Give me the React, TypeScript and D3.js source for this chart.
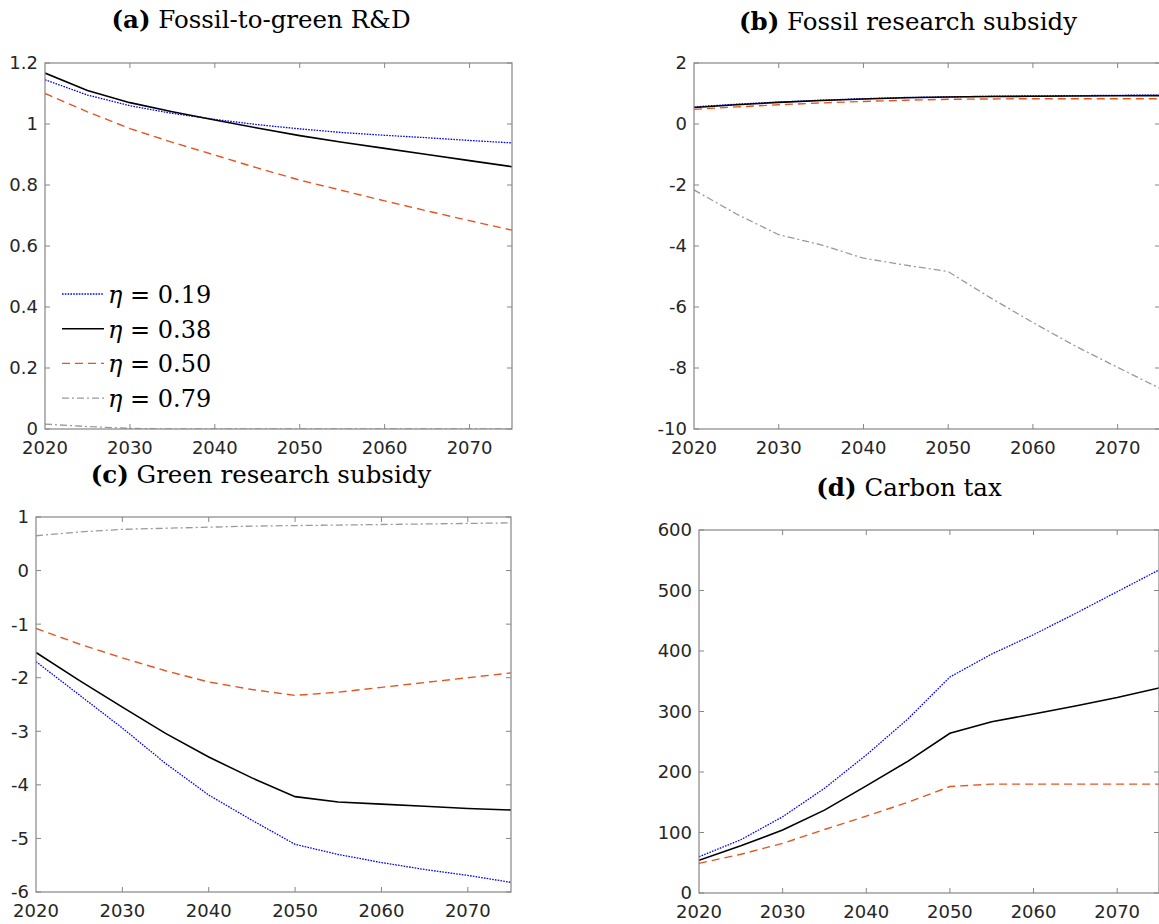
import React, { useEffect, useRef } from "react";
import * as d3 from "d3";

const years = [2020, 2025, 2030, 2035, 2040, 2045, 2050, 2055, 2060, 2065, 2070, 2075];
const yearTicks = [2020, 2030, 2040, 2050, 2060, 2070];
const etaLabels = ["0.19", "0.38", "0.50", "0.79"];

// (a) Fossil-to-green R&D
const rd019 = [1.145, 1.095, 1.06, 1.035, 1.015, 0.998, 0.984, 0.972, 0.963, 0.955, 0.946, 0.938];
const rd038 = [1.167, 1.11, 1.07, 1.04, 1.013, 0.987, 0.962, 0.94, 0.92, 0.9, 0.88, 0.86];
const rd050 = [1.1, 1.04, 0.985, 0.94, 0.898, 0.856, 0.816, 0.782, 0.748, 0.715, 0.683, 0.652];
const rd079 = [0.016, 0.008, 0.002, 0, 0, 0, 0, 0, 0, 0, 0, 0];
const rdTicks = [0, 0.2, 0.4, 0.6, 0.8, 1, 1.2];

// (b) Fossil research subsidy
const fossil019 = [0.56, 0.65, 0.72, 0.78, 0.83, 0.87, 0.89, 0.91, 0.92, 0.93, 0.94, 0.95];
const fossil038 = [0.54, 0.63, 0.71, 0.77, 0.82, 0.86, 0.885, 0.9, 0.91, 0.92, 0.925, 0.93];
const fossil050 = [0.48, 0.56, 0.63, 0.69, 0.74, 0.78, 0.81, 0.82, 0.83, 0.83, 0.83, 0.83];
const fossil079 = [-2.16, -2.95, -3.63, -3.96, -4.4, -4.63, -4.84, -5.7, -6.51, -7.28, -7.98, -8.67];
const fossilTicks = [-10, -8, -6, -4, -2, 0, 2];

// (c) Green research subsidy
const green019 = [-1.7, -2.32, -2.94, -3.6, -4.19, -4.66, -5.11, -5.3, -5.45, -5.58, -5.69, -5.82];
const green038 = [-1.53, -2.05, -2.55, -3.04, -3.48, -3.87, -4.22, -4.32, -4.36, -4.4, -4.44, -4.47];
const green050 = [-1.08, -1.37, -1.63, -1.87, -2.08, -2.22, -2.33, -2.27, -2.18, -2.09, -2.0, -1.91];
const green079 = [0.65, 0.72, 0.77, 0.79, 0.81, 0.83, 0.84, 0.85, 0.86, 0.87, 0.88, 0.89];
const greenTicks = [-6, -5, -4, -3, -2, -1, 0, 1];

// (d) Carbon tax
const tax019 = [60, 88, 126, 173, 228, 288, 357, 395, 427, 462, 498, 534];
const tax038 = [54, 78, 104, 137, 177, 218, 264, 283, 296, 309, 323, 339];
const tax050 = [49, 64, 82, 105, 127, 150, 176, 180, 180, 180, 180, 180];
const taxTicks = [0, 100, 200, 300, 400, 500, 600];

const lineStyles = [
  { color: "#0000ff", width: 1.3, dash: "1.6,1.2" },
  { color: "#000000", width: 1.6, dash: "" },
  { color: "#e8541f", width: 1.4, dash: "8,5" },
  { color: "#9a9a9a", width: 1.3, dash: "7,3,2,3" },
];

type PanelProps = {
  title: string;
  letter: string;
  series: (number[] | null)[];
  yTicks: number[];
  box: { left: number; right: number; top: number; bottom: number };
  titleX: number;
  titleY: number;
  legend?: boolean;
};

const Panel: React.FC<PanelProps> = ({ title, letter, series, yTicks, box, titleX, titleY, legend }) => {
  const ref = useRef<SVGGElement | null>(null);

  useEffect(() => {
    const g = d3.select(ref.current);
    g.selectAll("*").remove();

    const x = d3.scaleLinear().domain([2020, 2075]).range([box.left, box.right]);
    const y = d3
      .scaleLinear()
      .domain([yTicks[0], yTicks[yTicks.length - 1]])
      .range([box.bottom, box.top]);

    const axisColor = "#868686";
    const tickLen = 5;

    // clip for lines
    const clipId = `clip-${letter}`;
    g.append("clipPath")
      .attr("id", clipId)
      .append("rect")
      .attr("x", box.left)
      .attr("y", box.top)
      .attr("width", box.right - box.left)
      .attr("height", box.bottom - box.top);

    // lines
    const line = d3
      .line<number>()
      .x((_, i) => x(years[i]))
      .y((d) => y(d));

    series.forEach((s, i) => {
      if (!s) return;
      const st = lineStyles[i];
      g.append("path")
        .attr("d", line(s))
        .attr("fill", "none")
        .attr("stroke", st.color)
        .attr("stroke-width", st.width)
        .attr("stroke-dasharray", st.dash)
        .attr("clip-path", `url(#${clipId})`);
    });

    // box
    g.append("rect")
      .attr("x", box.left)
      .attr("y", box.top)
      .attr("width", box.right - box.left)
      .attr("height", box.bottom - box.top)
      .attr("fill", "none")
      .attr("stroke", axisColor)
      .attr("stroke-width", 1.2);

    // x ticks (top & bottom, inward)
    yearTicks.forEach((t) => {
      const px = x(t);
      if (t !== 2020) {
        g.append("line")
          .attr("x1", px).attr("x2", px)
          .attr("y1", box.bottom).attr("y2", box.bottom - tickLen)
          .attr("stroke", axisColor);
        g.append("line")
          .attr("x1", px).attr("x2", px)
          .attr("y1", box.top).attr("y2", box.top + tickLen)
          .attr("stroke", axisColor);
      }
      g.append("text")
        .attr("x", px)
        .attr("y", box.bottom + 25)
        .attr("text-anchor", "middle")
        .style("font-family", "DejaVu Sans")
        .style("font-size", "18px")
        .attr("fill", "#262626")
        .text(t);
    });

    // y ticks (left & right, inward)
    yTicks.forEach((t) => {
      const py = y(t);
      g.append("line")
        .attr("x1", box.left).attr("x2", box.left + tickLen)
        .attr("y1", py).attr("y2", py)
        .attr("stroke", axisColor);
      g.append("line")
        .attr("x1", box.right).attr("x2", box.right - tickLen)
        .attr("y1", py).attr("y2", py)
        .attr("stroke", axisColor);
      g.append("text")
        .attr("x", box.left - 7)
        .attr("y", py)
        .attr("dy", "0.36em")
        .attr("text-anchor", "end")
        .style("font-family", "DejaVu Sans")
        .style("font-size", "18px")
        .attr("fill", "#262626")
        .text(String(t));
    });

    // title
    const tt = g
      .append("text")
      .attr("x", titleX)
      .attr("y", titleY)
      .attr("text-anchor", "middle")
      .style("font-family", "DejaVu Serif")
      .style("font-size", "24.5px")
      .attr("fill", "#000");
    tt.append("tspan").attr("font-weight", "bold").text(`(${letter})`);
    tt.append("tspan").text(` ${title}`);

    // legend
    if (legend) {
      etaLabels.forEach((lab, i) => {
        const ly = 294 + i * 34.7;
        const st = lineStyles[i];
        g.append("line")
          .attr("x1", 62).attr("x2", 104)
          .attr("y1", ly).attr("y2", ly)
          .attr("stroke", st.color)
          .attr("stroke-width", st.width)
          .attr("stroke-dasharray", st.dash);
        const txt = g
          .append("text")
          .attr("x", 108)
          .attr("y", ly + 9)
          .style("font-family", "DejaVu Serif")
          .style("font-size", "24px")
          .attr("fill", "#000");
        txt.append("tspan").attr("font-style", "italic").text("η");
        txt.append("tspan").text(` = ${lab}`);
      });
    }
  }, [series, yTicks, box, titleX, titleY, legend, letter, title]);

  return <g ref={ref} />;
};

const App: React.FC = () => {
  return (
    <div style={{ position: "absolute", left: 0, top: 0 }}>
      <svg width={1159} height={924} style={{ display: "block", background: "#fff" }}>
        <Panel
          letter="a"
          title="Fossil-to-green R&D"
          series={[rd019, rd038, rd050, rd079]}
          yTicks={rdTicks}
          box={{ left: 45, right: 512, top: 63, bottom: 429 }}
          titleX={261}
          titleY={28}
          legend
        />
        <Panel
          letter="b"
          title="Fossil research subsidy"
          series={[fossil019, fossil038, fossil050, fossil079]}
          yTicks={fossilTicks}
          box={{ left: 694, right: 1160, top: 63, bottom: 429 }}
          titleX={908}
          titleY={30}
        />
        <Panel
          letter="c"
          title="Green research subsidy"
          series={[green019, green038, green050, green079]}
          yTicks={greenTicks}
          box={{ left: 36, right: 511, top: 517, bottom: 892 }}
          titleX={261}
          titleY={483}
        />
        <Panel
          letter="d"
          title="Carbon tax"
          series={[tax019, tax038, tax050, null]}
          yTicks={taxTicks}
          box={{ left: 699, right: 1159, top: 530, bottom: 893 }}
          titleX={909}
          titleY={496}
        />
      </svg>
    </div>
  );
};

export default App;
